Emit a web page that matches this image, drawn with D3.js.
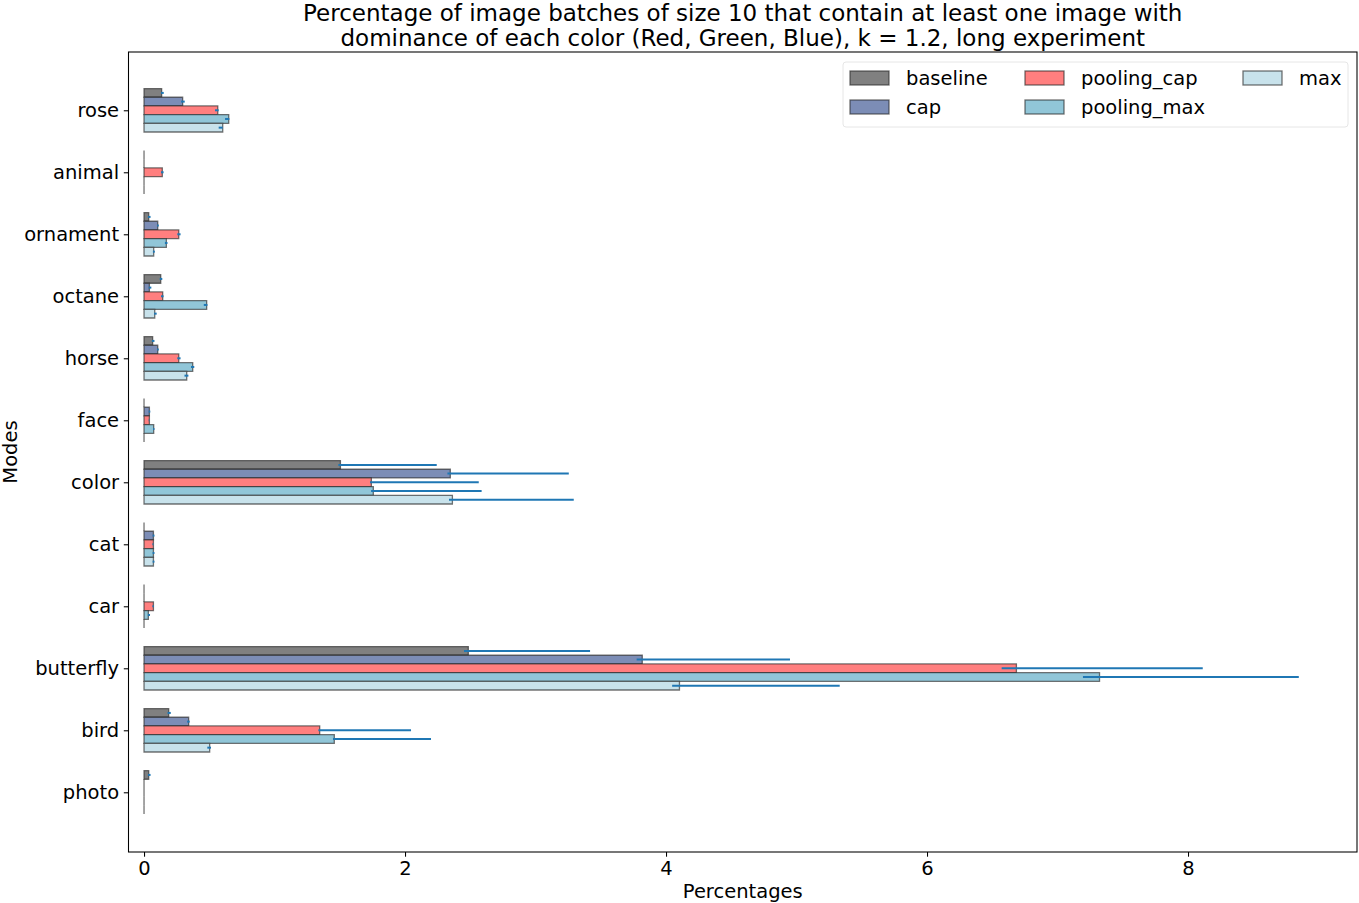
<!DOCTYPE html>
<html>
<head>
<meta charset="utf-8">
<script src="https://cdn.jsdelivr.net/npm/d3@7"></script>
<style>
  body { margin: 0; background: #fff; }
  svg { display: block; font-family: "DejaVu Sans", sans-serif; }
  .tick text { font-size: 19.5px; fill: #000; }
</style>
</head>
<body>
<div id="chart"></div>
<script>
// modes, top to bottom
const modes = ['rose', 'animal', 'ornament', 'octane', 'horse', 'face', 'color', 'cat', 'car', 'butterfly', 'bird', 'photo'];
const seriesNames = ['baseline', 'cap', 'pooling_cap', 'pooling_max', 'max'];
const seriesColors = ['#808080', '#7c8db6', '#ff7f7f', '#91c6d8', '#c8e2eb'];

const baseline    = [0.135, 0, 0.036, 0.128, 0.066, 0, 1.505, 0, 0, 2.485, 0.189, 0.036];
const baselineLo  = [0.13, null, 0.03, 0.12, 0.06, null, 1.489, null, null, 2.452, 0.18, 0.03];
const baselineHi  = [0.151, null, 0.05, 0.14, 0.08, null, 2.243, null, null, 3.418, 0.205, 0.05];

const cap   = [0.296, 0, 0.105, 0.041, 0.105, 0.041, 2.347, 0.072, 0, 3.818, 0.342, 0];
const capLo = [0.284, null, 0.1, 0.036, 0.1, 0.036, 2.325, 0.066, null, 3.775, 0.33, null];
const capHi = [0.312, null, 0.113, 0.056, 0.113, 0.048, 3.255, 0.08, null, 4.95, 0.35, null];

const poolingCap   = [0.565, 0.14, 0.266, 0.143, 0.266, 0.041, 1.742, 0.072, 0.072, 6.685, 1.346, 0];
const poolingCapLo = [0.544, 0.13, 0.255, 0.13, 0.255, 0.036, 1.732, 0.064, 0.064, 6.572, 1.336, null];
const poolingCapHi = [0.572, 0.15, 0.28, 0.15, 0.28, 0.041, 2.565, 0.072, 0.075, 8.113, 2.046, null];

const poolingMax   = [0.649, 0, 0.171, 0.48, 0.373, 0.074, 1.757, 0.072, 0.033, 7.322, 1.458, 0];
const poolingMaxLo = [0.621, null, 0.16, 0.458, 0.36, 0.07, 1.74, 0.066, 0.03, 7.195, 1.448, null];
const poolingMaxHi = [0.654, null, 0.18, 0.486, 0.385, 0.08, 2.587, 0.08, 0.046, 8.849, 2.199, null];

const maxVals = [0.603, 0, 0.074, 0.082, 0.327, 0, 2.363, 0.072, 0, 4.103, 0.503, 0];
const maxLo   = [0.572, null, 0.068, 0.077, 0.31, null, 2.337, 0.066, null, 4.047, 0.485, null];
const maxHi   = [0.603, null, 0.083, 0.097, 0.34, null, 3.293, 0.08, null, 5.331, 0.513, null];

const xTicks = [0, 2, 4, 6, 8];

const seriesValues = [baseline, cap, poolingCap, poolingMax, maxVals];
const seriesLo = [baselineLo, capLo, poolingCapLo, poolingMaxLo, maxLo];
const seriesHi = [baselineHi, capHi, poolingCapHi, poolingMaxHi, maxHi];

const W = 1359, H = 903;
const margin = { top: 52, right: 2, bottom: 51, left: 128.5 };
const barH = 0.14;
const fontSize = '19.5px';

const svg = d3.select('#chart').append('svg')
    .attr('width', W)
    .attr('height', H);

const xScale = d3.scaleLinear()
    .domain([-0.119, 9.295])
    .range([margin.left, W - margin.right]);

// category position: photo = 0 at bottom, rose = 11 at top
const yScale = d3.scaleLinear()
    .domain([-0.963, 11.94])
    .range([H - margin.bottom, margin.top]);

const pos = i => modes.length - 1 - i;

// bars
const bars = [];
seriesNames.forEach((name, j) => {
    seriesValues[j].forEach((v, i) => {
        bars.push({ j, i, v, lo: seriesLo[j][i], hi: seriesHi[j][i] });
    });
});

const barG = svg.append('g');
barG.selectAll('path.bar')
    .data(bars)
    .enter()
    .append('path')
    .attr('class', 'bar')
    .attr('d', d => {
        const c = pos(d.i) + (2 - d.j) * barH;
        const y0 = yScale(c + barH / 2), y1 = yScale(c - barH / 2);
        const x0 = xScale(0), x1 = xScale(d.v);
        return `M${x0},${y0}H${x1}V${y1}H${x0}Z`;
    })
    .attr('fill', d => seriesColors[d.j])
    .attr('stroke', '#2a2a2a')
    .attr('stroke-opacity', 0.65)
    .attr('stroke-width', 1.3);

// error bars
barG.selectAll('line.err')
    .data(bars.filter(d => d.lo !== null))
    .enter()
    .append('line')
    .attr('class', 'err')
    .attr('x1', d => xScale(d.lo))
    .attr('x2', d => xScale(d.hi))
    .attr('y1', d => yScale(pos(d.i) + (2 - d.j) * barH))
    .attr('y2', d => yScale(pos(d.i) + (2 - d.j) * barH))
    .attr('stroke', '#1f77b4')
    .attr('stroke-width', 2);

// axes
const xAxis = svg.append('g')
    .attr('transform', `translate(0,${H - margin.bottom})`)
    .call(d3.axisBottom(xScale).tickValues(xTicks).tickSize(4.7).tickPadding(4.5).tickFormat(d3.format('d')));

const yAxis = svg.append('g')
    .attr('transform', `translate(${margin.left},0)`)
    .call(d3.axisLeft(yScale).tickValues(modes.map((m, i) => pos(i))).tickSize(4.7).tickPadding(4.7)
        .tickFormat(p => modes[modes.length - 1 - p]));

[xAxis, yAxis].forEach(a => {
    a.select('.domain').remove();
    a.selectAll('.tick line').attr('stroke', '#000').attr('stroke-width', 1.07);
    a.selectAll('.tick text').attr('font-family', '"DejaVu Sans", sans-serif');
});

// frame
svg.append('rect')
    .attr('x', margin.left)
    .attr('y', margin.top)
    .attr('width', W - margin.right - margin.left)
    .attr('height', H - margin.bottom - margin.top)
    .attr('fill', 'none')
    .attr('stroke', '#000')
    .attr('stroke-width', 1.07);

// labels
const cx = (margin.left + W - margin.right) / 2;
svg.append('text')
    .attr('x', cx)
    .attr('y', 898)
    .attr('text-anchor', 'middle')
    .style('font-size', fontSize)
    .text('Percentages');

svg.append('text')
    .attr('transform', `translate(17,${(margin.top + H - margin.bottom) / 2}) rotate(-90)`)
    .attr('text-anchor', 'middle')
    .style('font-size', fontSize)
    .text('Modes');

const titleLines = [
    'Percentage of image batches of size 10 that contain at least one image with',
    'dominance of each color (Red, Green, Blue), k = 1.2, long experiment'
];
svg.selectAll('text.title')
    .data(titleLines)
    .enter()
    .append('text')
    .attr('class', 'title')
    .attr('x', cx)
    .attr('y', (d, i) => 21 + i * 25)
    .attr('text-anchor', 'middle')
    .style('font-size', '23px')
    .text(d => d);

// legend
const legend = svg.append('g');
legend.append('rect')
    .attr('x', 843)
    .attr('y', 62)
    .attr('width', 505)
    .attr('height', 65)
    .attr('rx', 3)
    .attr('fill', '#fff')
    .attr('fill-opacity', 0.8)
    .attr('stroke', '#e6e6e6');

const legendCols = [850, 1025, 1243];
seriesNames.forEach((name, j) => {
    const col = Math.floor(j / 2), row = j % 2;
    const lx = legendCols[col], ly = 71 + row * 29;
    legend.append('rect')
        .attr('x', lx)
        .attr('y', ly)
        .attr('width', 39)
        .attr('height', 14)
        .attr('fill', seriesColors[j])
        .attr('stroke', '#2a2a2a')
        .attr('stroke-opacity', 0.65)
        .attr('stroke-width', 1.3);
    legend.append('text')
        .attr('x', lx + 56)
        .attr('y', ly + 14)
        .style('font-size', fontSize)
        .text(name);
});
</script>
</body>
</html>
